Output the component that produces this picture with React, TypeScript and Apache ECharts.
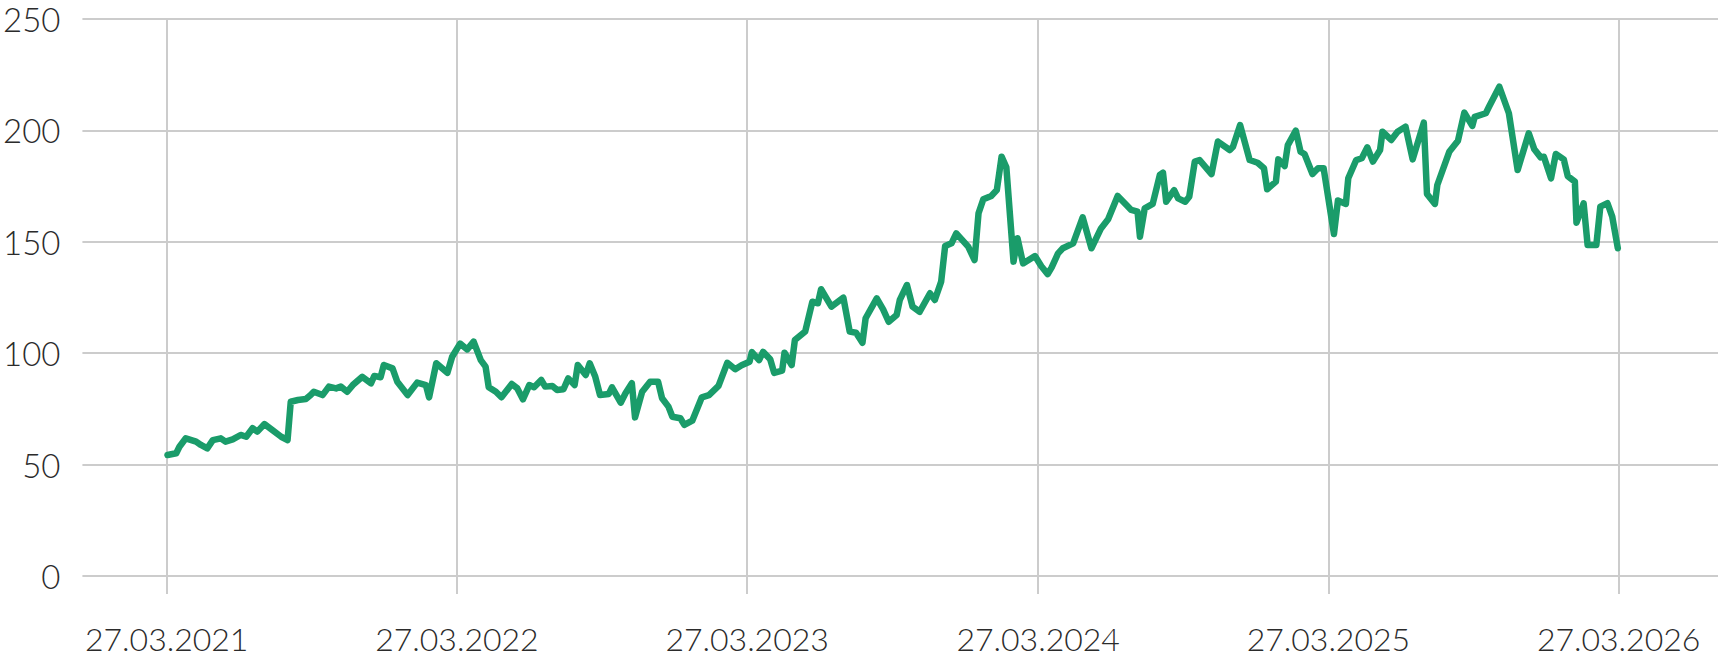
import React, { useEffect, useRef } from "react";
import * as echarts from "echarts";

const START_DATE = "2021-03-27";
const AXIS_MIN_DATE = "2020-12-11";
const AXIS_MAX_DATE = "2026-07-30";
const TICK_DATES = ["2021-03-27", "2022-03-27", "2023-03-27", "2024-03-27", "2025-03-27", "2026-03-27"];
const Y_MIN = 0;
const Y_MAX = 250;
const Y_STEP = 50;

// days since START_DATE
const dayOffsets = [
  1, 12, 16, 24, 37, 43, 51, 58, 68, 74, 83, 93, 100, 108, 114, 123, 133, 144, 152, 156,
  165, 175, 181, 185, 196, 204, 213, 219, 227, 234, 246, 257, 261, 269, 273, 284, 290, 303, 315, 326,
  330, 339, 353, 359, 369, 378, 386, 395, 401, 405, 414, 421, 434, 441, 448, 456, 462, 471, 476, 485,
  491, 499, 505, 513, 517, 527, 532, 539, 545, 556, 560, 571, 577, 585, 589, 598, 608, 618, 623, 631,
  636, 646, 651, 661, 673, 682, 694, 705, 715, 723, 733, 736, 745, 750, 759, 764, 774, 777, 786, 790,
  803, 812, 819, 823, 836, 851, 859, 867, 875, 879, 893, 901, 908, 918, 922, 931, 938, 947, 960, 966,
  974, 979, 987, 993, 1008, 1016, 1021, 1027, 1037, 1044, 1050, 1056, 1065, 1070, 1077, 1092, 1100, 1108, 1113, 1121,
  1127, 1140, 1152, 1163, 1175, 1184, 1196, 1207, 1213, 1221, 1224, 1230, 1240, 1249, 1253, 1257, 1267, 1272, 1281, 1286,
  1293, 1299, 1314, 1322, 1337, 1341, 1350, 1362, 1372, 1380, 1384, 1395, 1398, 1406, 1410, 1420, 1426, 1431, 1441, 1448,
  1455, 1468, 1473, 1483, 1486, 1496, 1503, 1510, 1517, 1526, 1529, 1540, 1548, 1558, 1567, 1581, 1585, 1595, 1598, 1613,
  1624, 1632, 1642, 1645, 1659, 1663, 1676, 1688, 1699, 1713, 1720, 1728, 1732, 1741, 1747, 1757, 1762, 1771, 1773, 1782,
  1787, 1798, 1803, 1812, 1818, 1825,
];

const prices = [
  54.3, 55.1, 58.0, 61.8, 60.3, 58.8, 57.3, 61.0, 61.8, 60.3, 61.3, 63.3, 62.5, 66.3, 64.8, 68.2, 65.5, 62.5, 61.0, 78.2,
  79.0, 79.4, 81.2, 82.7, 81.2, 85.0, 84.2, 85.0, 82.7, 85.7, 89.4, 86.5, 89.8, 89.2, 94.7, 93.2, 87.2, 81.2, 86.8, 85.7,
  80.2, 95.5, 91.2, 98.4, 104.3, 101.7, 105.2, 96.9, 94.0, 84.7, 82.7, 80.2, 86.2, 84.2, 79.3, 85.7, 84.7, 88.0, 85.0, 85.3,
  83.5, 83.8, 88.7, 85.7, 94.7, 90.2, 95.5, 89.4, 81.2, 81.7, 84.7, 77.8, 82.0, 86.5, 71.2, 82.7, 87.2, 87.2, 79.8, 76.0,
  71.5, 70.8, 67.8, 69.7, 80.2, 81.2, 85.3, 95.7, 92.8, 94.6, 96.2, 100.5, 96.9, 100.6, 97.3, 91.2, 92.2, 100.2, 94.7, 105.9,
  109.7, 123.1, 122.4, 128.7, 120.9, 124.9, 109.7, 109.2, 104.7, 115.7, 124.6, 119.7, 114.1, 117.1, 123.9, 130.6, 120.9, 118.6, 126.9, 123.9,
  132.1, 148.1, 149.3, 153.8, 147.8, 141.8, 162.8, 169.1, 170.6, 173.2, 188.2, 183.4, 141.1, 151.6, 140.3, 143.6, 139.0, 135.5, 138.5, 144.8,
  147.1, 149.3, 161.0, 147.1, 156.0, 160.1, 170.6, 166.5, 164.3, 163.5, 152.3, 165.0, 167.0, 180.0, 181.0, 168.0, 173.2, 169.5, 168.0, 170.2,
  186.0, 186.7, 180.4, 195.0, 191.2, 192.7, 202.4, 186.7, 185.5, 183.0, 173.6, 177.0, 187.0, 184.0, 193.4, 199.9, 190.4, 189.4, 180.4, 183.0,
  183.0, 153.5, 168.5, 167.0, 178.5, 186.7, 187.5, 192.4, 186.0, 191.2, 199.4, 195.7, 199.4, 201.7, 187.0, 203.5, 171.5, 167.0, 175.5, 190.4,
  195.4, 208.0, 202.0, 206.1, 207.7, 210.6, 219.6, 207.7, 182.2, 198.7, 191.5, 187.9, 188.2, 178.5, 189.4, 187.0, 179.5, 177.0, 158.6, 167.3,
  148.6, 148.6, 165.8, 167.3, 161.3, 147.1,
];

const DAY = 86400000;
const toTs = (s: string) => {
  const [y, m, d] = s.split("-").map(Number);
  return Date.UTC(y, m - 1, d);
};
const pad = (n: number) => (n < 10 ? "0" + n : "" + n);
const fmt = (ts: number) => {
  const d = new Date(ts);
  return pad(d.getUTCDate()) + "." + pad(d.getUTCMonth() + 1) + "." + d.getUTCFullYear();
};

export default function App() {
  const ref = useRef<HTMLDivElement>(null);
  useEffect(() => {
    document.body.style.margin = "0";
    if (!ref.current) return;
    const chart = echarts.init(ref.current, undefined, { renderer: "svg" });
    const start = toTs(START_DATE);
    const data = dayOffsets.map((d, i) => [start + d * DAY, prices[i]]);
    const ticks = TICK_DATES.map(toTs);
    const font = "Lato";
    chart.setOption({
      animation: false,
      grid: { left: 80, right: 0, top: 19, bottom: 82 },
      xAxis: {
        type: "value",
        min: toTs(AXIS_MIN_DATE),
        max: toTs(AXIS_MAX_DATE),
        axisLine: { show: false },
        axisTick: {
          show: true,
          length: 18,
          customValues: ticks,
          lineStyle: { color: "#cccccc", width: 2 },
        },
        splitLine: { show: true, lineStyle: { color: "#cccccc", width: 2 } },
        axisLabel: {
          customValues: ticks,
          formatter: (v: number) => fmt(v),
          margin: 47,
          fontSize: 32,
          lineHeight: 30,
          fontFamily: font,
          fontWeight: 300,
          color: "#2b2b2b",
        },
      },
      yAxis: {
        type: "value",
        min: Y_MIN,
        max: Y_MAX,
        interval: Y_STEP,
        axisLine: { show: false },
        axisTick: { show: false },
        splitLine: { show: true, lineStyle: { color: "#cccccc", width: 2 } },
        axisLabel: {
          margin: 22,
          fontSize: 33,
          fontFamily: font,
          fontWeight: 300,
          color: "#2b2b2b",
        },
      },
      series: [
        {
          type: "line",
          data,
          showSymbol: false,
          symbol: "none",
          lineStyle: { color: "#1a9c6a", width: 6.5, join: "round", cap: "round" },
          z: 5,
        },
      ],
    });
    return () => chart.dispose();
  }, []);
  return <div ref={ref} style={{ position: "absolute", left: 0, top: 0, width: 1718, height: 658 }} />;
}
